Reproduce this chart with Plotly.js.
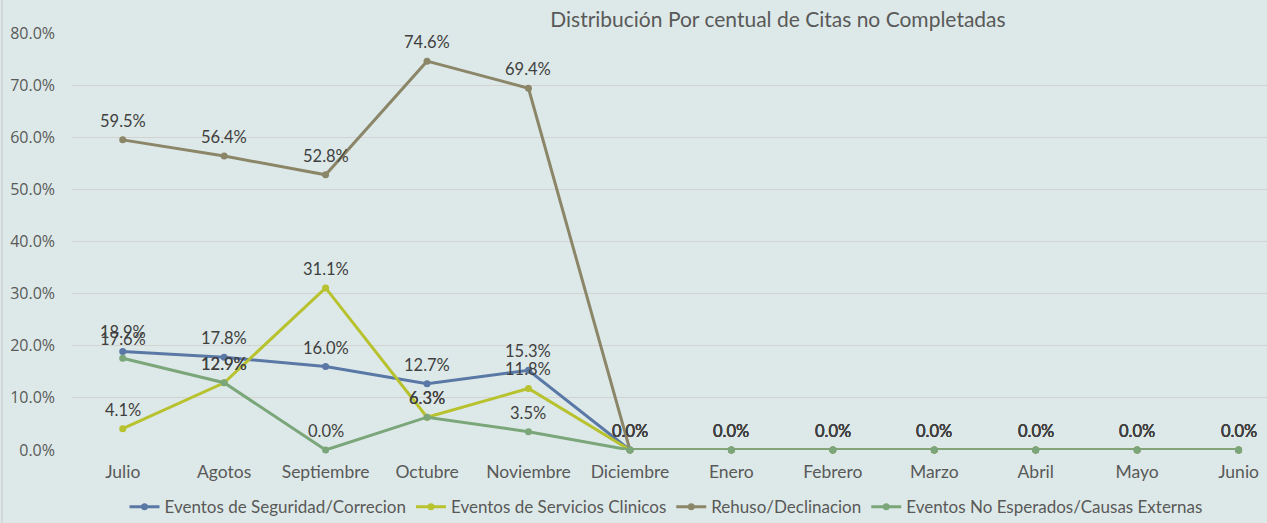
<!DOCTYPE html>
<html>
<head>
<meta charset="utf-8">
<script src="https://cdn.plot.ly/plotly-3.0.1.min.js"></script>
<style>html,body{margin:0;padding:0;background:#DDE9E8;}#chart{width:1267px;height:523px;}</style>
</head>
<body>
<div id="chart"></div>
<script>
const months = ["Julio","Agotos","Septiembre","Octubre","Noviembre","Diciembre","Enero","Febrero","Marzo","Abril","Mayo","Junio"];
const seguridad = [18.9, 17.8, 16.0, 12.7, 15.3, 0, 0, 0, 0, 0, 0, 0];
const servicios = [4.1, 12.9, 31.1, 6.3, 11.8, 0, 0, 0, 0, 0, 0, 0];
const rehuso = [59.5, 56.4, 52.8, 74.6, 69.4, 0, 0, 0, 0, 0, 0, 0];
const noEsperados = [17.6, 12.9, 0.0, 6.3, 3.5, 0, 0, 0, 0, 0, 0, 0];
const seriesNames = ["Eventos de Seguridad/Correcion","Eventos de Servicios Clinicos","Rehuso/Declinacion","Eventos No Esperados/Causas Externas"];
const colors = ["#5A78A6","#B7C22E","#8C8669","#7AA67A"];
const yTicks = [0,10,20,30,40,50,60,70,80];

const allSeries = [seguridad, servicios, rehuso, noEsperados];
const FONT = "Lato, 'Open Sans', sans-serif";
const traces = allSeries.map((vals, i) => ({
  type: 'scatter',
  mode: 'lines+markers',
  name: seriesNames[i],
  x: months,
  y: vals,
  line: {color: colors[i], width: 3},
  marker: {color: colors[i], size: 7},
  cliponaxis: false,
  hoverinfo: 'x+y+name'
}));

const annotations = [];
allSeries.forEach(vals => {
  vals.forEach((v, j) => {
    annotations.push({
      x: months[j], y: v, xref: 'x', yref: 'y',
      text: v.toFixed(1) + '%',
      showarrow: false,
      yshift: 19,
      font: {family: FONT, size: 16.5, color: '#404040'}
    });
  });
});

const layout = {
  width: 1267, height: 523,
  paper_bgcolor: '#DDE9E8',
  plot_bgcolor: '#DDE9E8',
  margin: {l: 72, r: 0, t: 33, b: 73, autoexpand: false},
  font: {family: FONT, color: '#595959'},
  title: {
    text: 'Distribución Por centual de Citas no Completadas',
    font: {family: FONT, size: 21, color: '#595959'},
    xref: 'container', x: 0.614, xanchor: 'center',
    yref: 'container', y: 0.962, yanchor: 'middle',
    automargin: false
  },
  xaxis: {
    type: 'category',
    range: [-0.5, 11.28],
    showgrid: false,
    zeroline: false,
    showline: false,
    ticks: '',
    tickfont: {family: FONT, size: 17.5, color: '#595959'},
    ticklabelstandoff: 9,
    automargin: false
  },
  yaxis: {
    range: [0, 80],
    tickvals: yTicks,
    ticktext: yTicks.map(v => v.toFixed(1) + '%'),
    showgrid: true,
    gridcolor: '#D5D2D2',
    gridwidth: 1,
    zeroline: false,
    showline: false,
    ticks: '',
    tickfont: {family: "'Open Sans', sans-serif", size: 16, color: '#595959'},
    ticklabelstandoff: 16,
    automargin: false
  },
  annotations: annotations,
  showlegend: true,
  legend: {
    orientation: 'h',
    x: (666 - 72) / 1195, xanchor: 'center',
    y: -0.137, yanchor: 'middle',
    font: {family: FONT, size: 17, color: '#595959'},
    bgcolor: 'rgba(0,0,0,0)',
    itemwidth: 30,
    traceorder: 'normal'
  },
  shapes: [{
    type: 'line', xref: 'paper', yref: 'paper',
    x0: (2 - 72) / 1195, x1: (2 - 72) / 1195, y0: -73/417, y1: 1 + 33/417,
    line: {color: '#C8C8C8', width: 1}
  }]
};

Plotly.newPlot('chart', traces, layout, {displayModeBar: false, staticPlot: true});
</script>
</body>
</html>
